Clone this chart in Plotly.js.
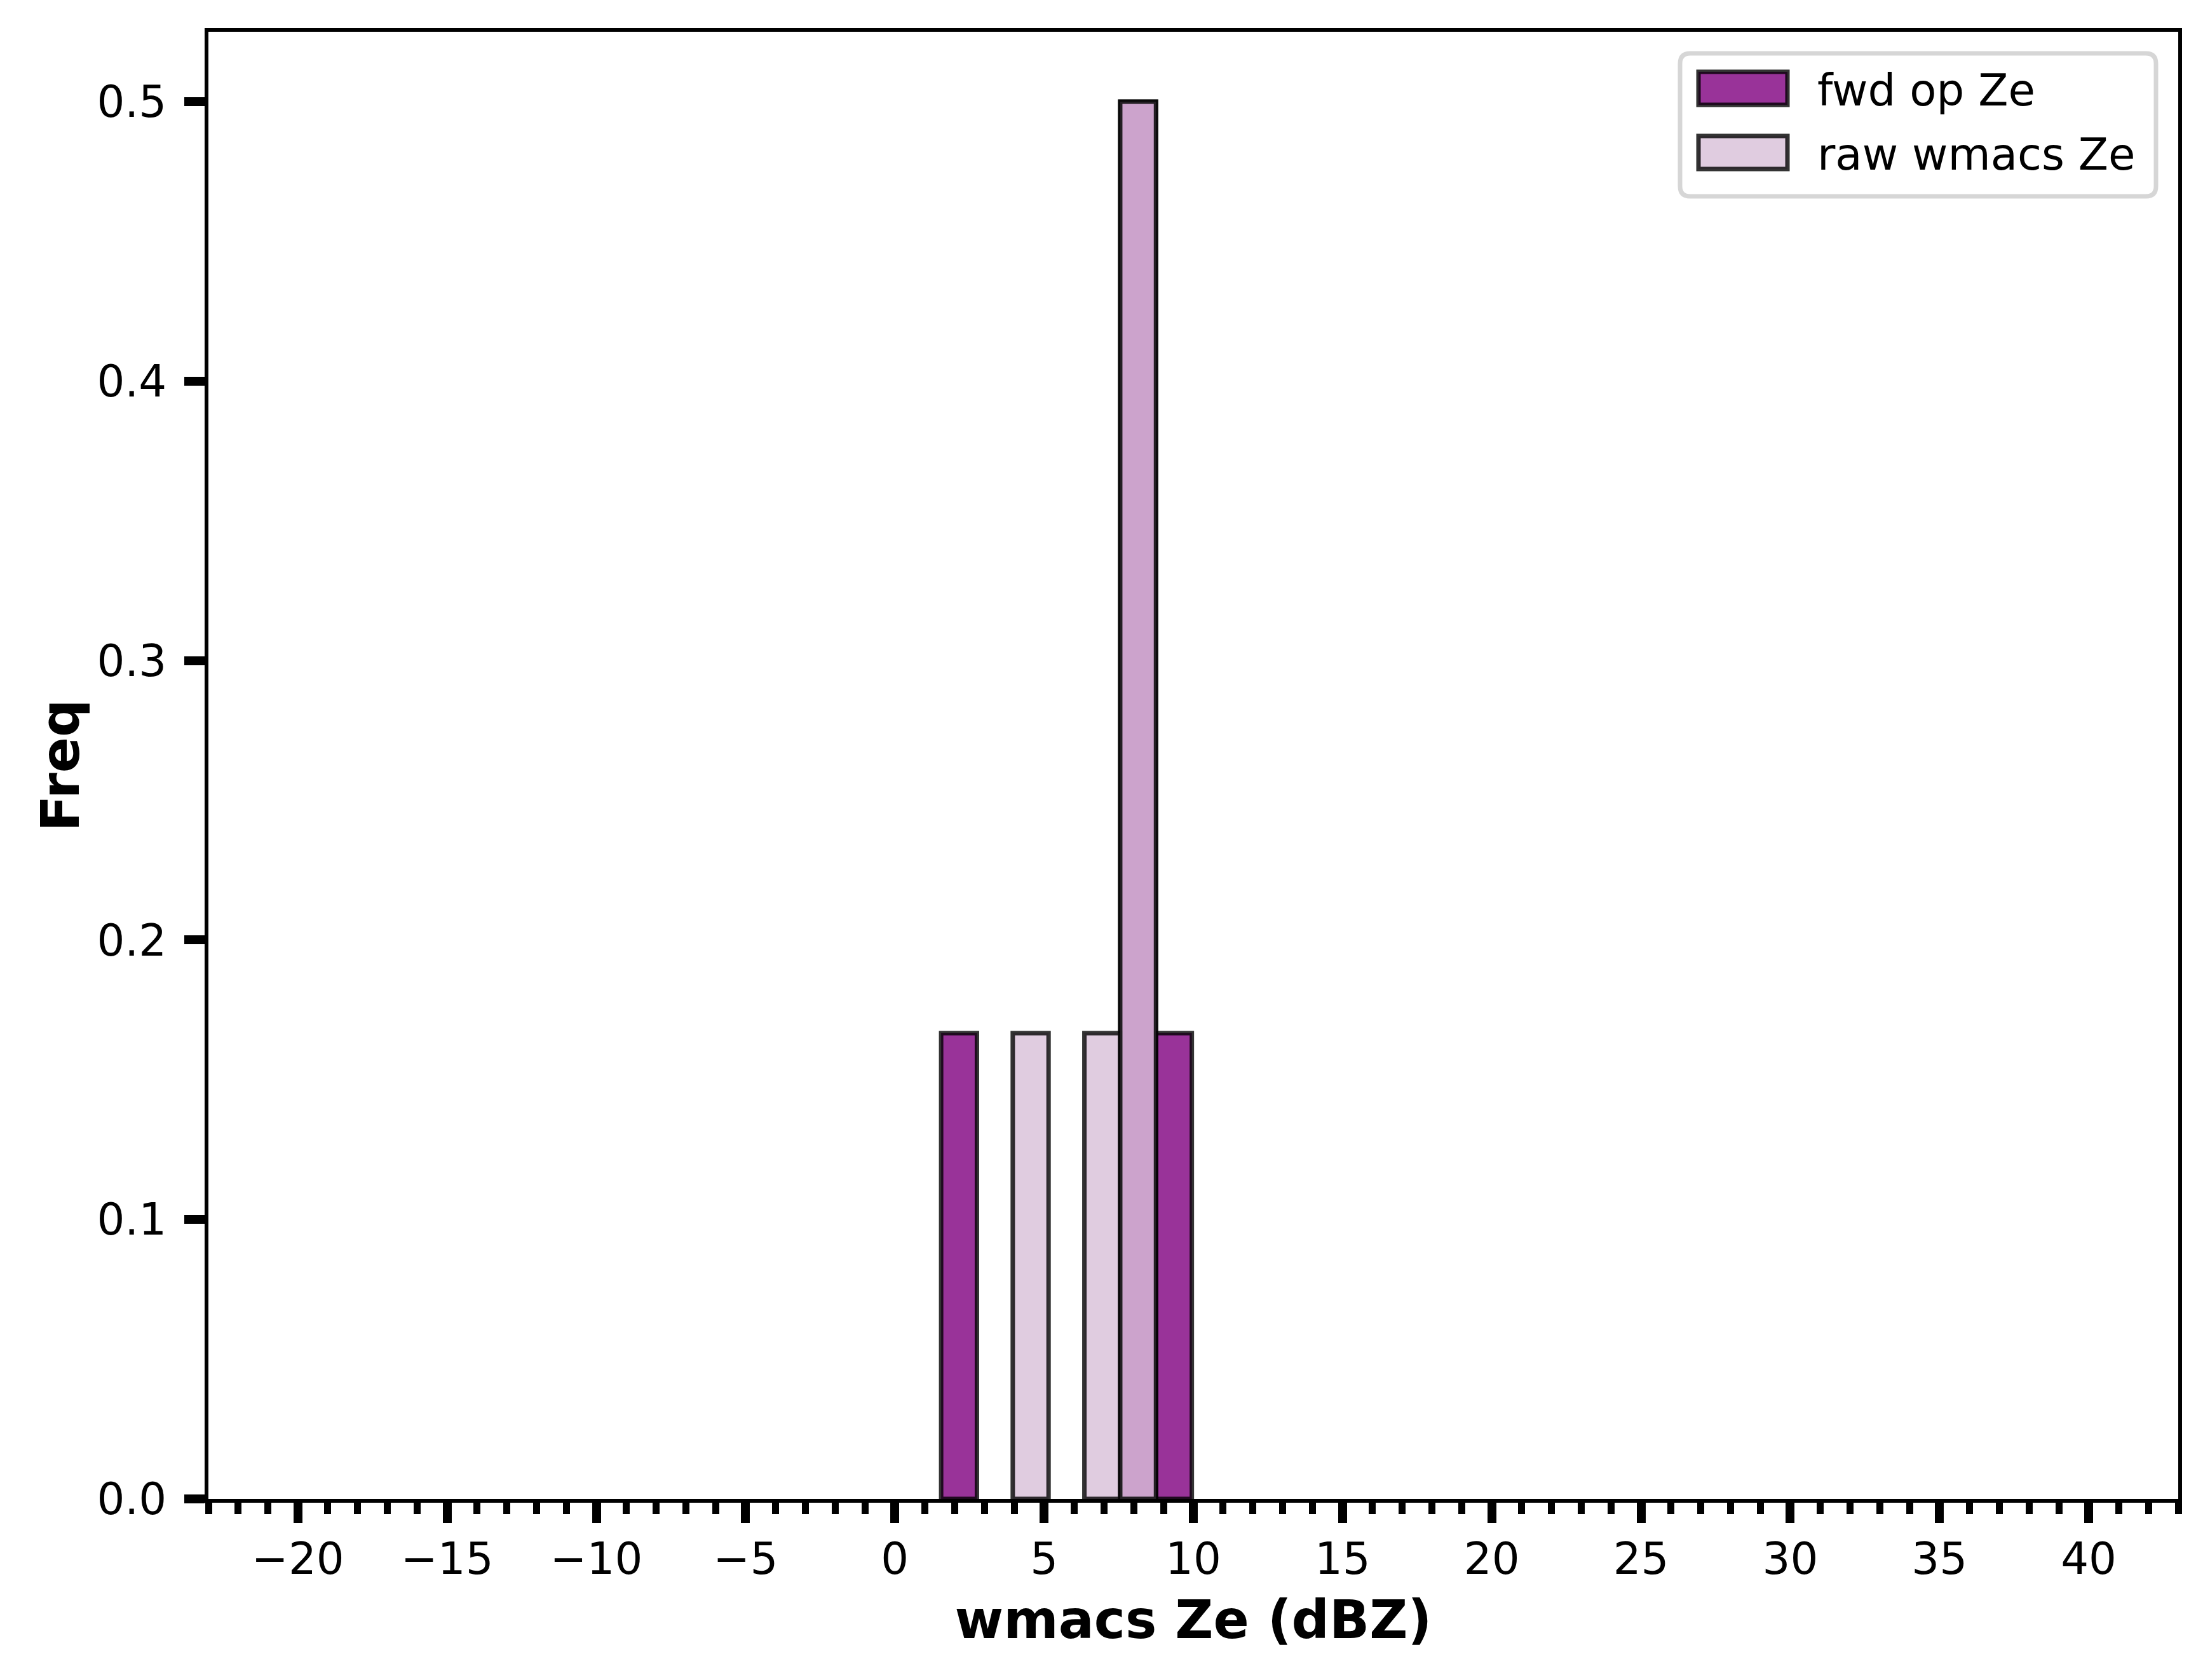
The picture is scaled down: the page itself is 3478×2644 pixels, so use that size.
<!DOCTYPE html>
<html>
<head>
<meta charset="utf-8">
<script src="https://cdn.plot.ly/plotly-3.0.1.min.js"></script>
<style>
  html, body { margin: 0; padding: 0; background: #fff; }
</style>
</head>
<body>
<div id="chart"></div>
<script>
/******************** DATA ********************/
// shared histogram bin edges (dBZ)
const binEdges = [1.55, 2.75, 3.95, 5.15, 6.35, 7.55, 8.75, 9.95];
// frequency per bin
const fwdFreq = [1 / 6, 0, 0, 0, 0, 0.5, 1 / 6];
const rawFreq = [0, 0, 1 / 6, 0, 1 / 6, 0.5, 0];
const seriesNames = ["fwd op Ze", "raw wmacs Ze"];

const yTicks = [0, 0.1, 0.2, 0.3, 0.4, 0.5];

/******************** STYLE ********************/
const W = 3478, H = 2644;
const plotBox = { l: 328, r: 3428, t: 50, b: 2359 };  // pixel edges of the axes
const fillColors = ["rgba(128,0,128,0.8)", "rgba(216,191,216,0.8)"];
const edgeColor = "rgba(0,0,0,0.8)";
const FONT = "DejaVu Sans, Liberation Sans, sans-serif";

// bin centers / widths from the edges
const centers = binEdges.slice(0, -1).map((e, i) => (e + binEdges[i + 1]) / 2);
const widths = binEdges.slice(0, -1).map((e, i) => binEdges[i + 1] - e);

function barTrace(freq, idx) {
  return {
    type: "bar",
    name: seriesNames[idx],
    x: centers,
    y: freq.map(v => (v > 0 ? v : null)),
    width: widths,
    marker: {
      color: fillColors[idx],
      line: { color: edgeColor, width: 7 }
    },
    showlegend: false,
    hoverinfo: "x+y+name"
  };
}

const traces = [barTrace(fwdFreq, 0), barTrace(rawFreq, 1)];

/******************** LEGEND (drawn by hand, matplotlib-like) ********************/
const pw = plotBox.r - plotBox.l, ph = plotBox.b - plotBox.t;
const px = x => (x - plotBox.l) / pw;
const py = y => (plotBox.b - y) / ph;

function roundRectPath(x0, y0, x1, y1, r) {
  // pixel corners -> paper path with rounded corners
  const rx = r / pw, ry = r / ph;
  const L = px(x0), R = px(x1), T = py(y0), B = py(y1);
  return `M${L + rx},${T} L${R - rx},${T} Q${R},${T} ${R},${T - ry} ` +
         `L${R},${B + ry} Q${R},${B} ${R - rx},${B} ` +
         `L${L + rx},${B} Q${L},${B} ${L},${B + ry} ` +
         `L${L},${T - ry} Q${L},${T} ${L + rx},${T} Z`;
}

const legend = { x0: 2644, x1: 3393, y0: 84, y1: 309, swL: 2673, swR: 2813, textX: 2858,
                 rows: [139, 240], swH: 52 };

const shapes = [{
  type: "path", xref: "paper", yref: "paper",
  path: roundRectPath(legend.x0, legend.y0, legend.x1, legend.y1, 16),
  fillcolor: "rgba(255,255,255,0.8)",
  line: { color: "rgba(204,204,204,0.8)", width: 7 },
  layer: "above"
}];
const annotations = [];

seriesNames.forEach((name, i) => {
  const cy = legend.rows[i];
  shapes.push({
    type: "rect", xref: "paper", yref: "paper", layer: "above",
    x0: px(legend.swL), x1: px(legend.swR),
    y0: py(cy + legend.swH / 2), y1: py(cy - legend.swH / 2),
    fillcolor: fillColors[i],
    line: { color: edgeColor, width: 7 }
  });
  annotations.push({
    xref: "paper", yref: "paper",
    x: px(legend.textX), y: py(cy + 3),
    xanchor: "left", yanchor: "middle",
    text: name, showarrow: false,
    font: { family: FONT, size: 69, color: "#000" }
  });
});

/******************** LAYOUT ********************/
const layout = {
  width: W,
  height: H,
  margin: { l: plotBox.l, r: W - plotBox.r, t: plotBox.t, b: H - plotBox.b, pad: 0 },
  paper_bgcolor: "#fff",
  plot_bgcolor: "#fff",
  barmode: "overlay",
  bargap: 0,
  showlegend: false,
  font: { family: FONT, size: 69, color: "#000" },
  xaxis: {
    range: [-23, 43],
    tick0: 0,
    dtick: 5,
    ticks: "outside",
    ticklen: 32,
    tickwidth: 14,
    tickcolor: "#000",
    ticklabelstandoff: -3,
    showgrid: false,
    zeroline: false,
    showline: true,
    linecolor: "#000",
    linewidth: 6,
    mirror: true,
    tickfont: { family: FONT, size: 69 },
    minor: { dtick: 1, tick0: 0, ticks: "outside", ticklen: 18, tickwidth: 11,
             tickcolor: "#000", showgrid: false },
    title: { text: "wmacs Ze (dBZ)", standoff: 30,
             font: { family: FONT, size: 83, weight: "bold" } },
    automargin: false
  },
  yaxis: {
    range: [0, 0.525],
    tickvals: yTicks,
    tickformat: ".1f",
    ticks: "outside",
    ticklen: 32,
    tickwidth: 14,
    tickcolor: "#000",
    ticklabelstandoff: 14,
    showgrid: false,
    zeroline: false,
    showline: true,
    linecolor: "#000",
    linewidth: 6,
    mirror: true,
    tickfont: { family: FONT, size: 69 },
    title: { text: "Freq", standoff: 2,
             font: { family: FONT, size: 83, weight: "bold" } },
    automargin: false
  },
  shapes: shapes,
  annotations: annotations
};

Plotly.newPlot("chart", traces, layout, { displayModeBar: false, staticPlot: true });
</script>
</body>
</html>
